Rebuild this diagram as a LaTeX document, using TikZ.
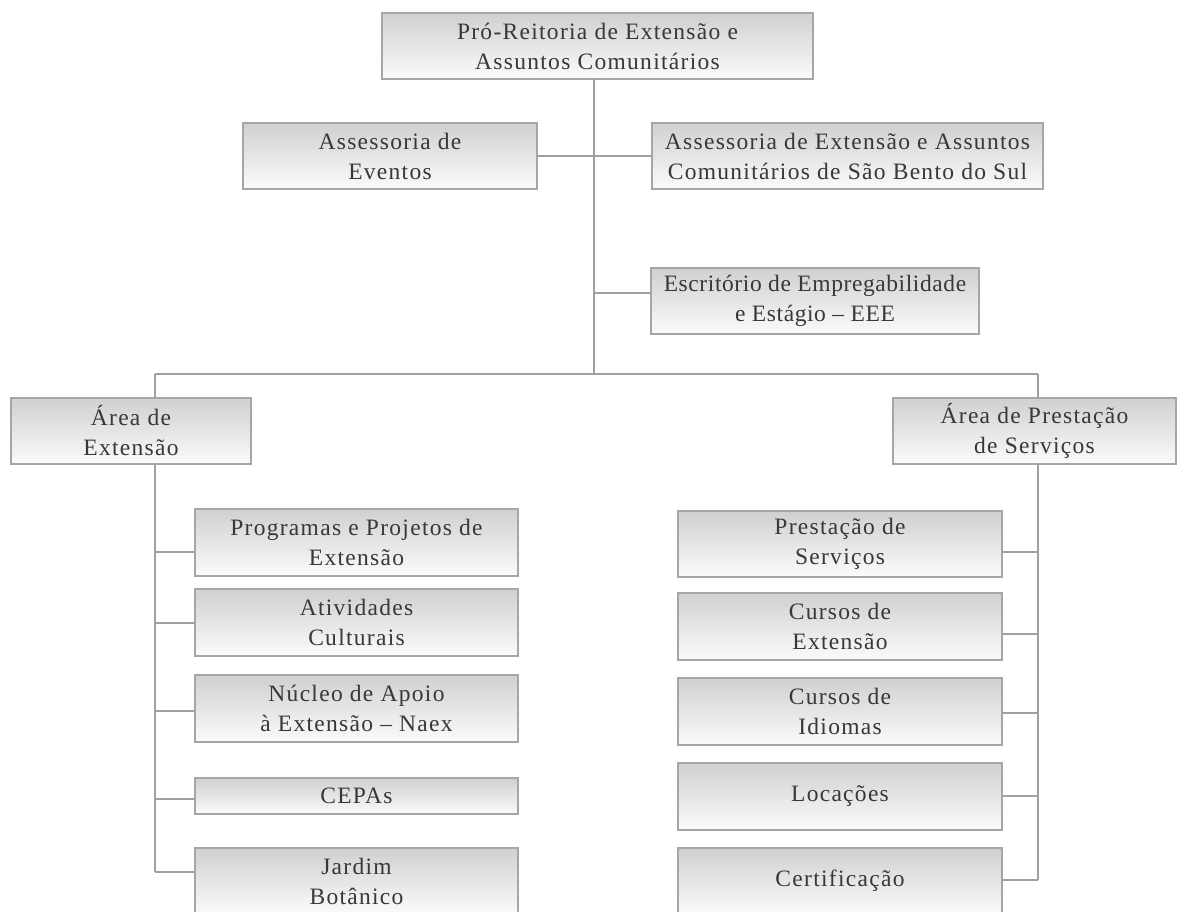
\documentclass[tikz,border=0pt]{standalone}
\usepackage{fontspec}
\setmainfont{Liberation Serif}[LetterSpace=5.5]
\definecolor{gtop}{HTML}{D0D0D2}
\definecolor{gbot}{HTML}{FBFBFB}
\definecolor{edge}{HTML}{A6A6A6}
\definecolor{conn}{HTML}{A0A0A0}
\definecolor{txt}{HTML}{383838}
\tikzset{
  orgbox/.style={draw=edge, line width=1.2pt, top color=gtop, bottom color=gbot,
    text=txt, align=center, inner sep=0pt, outer sep=0pt,
    font=\fontsize{23.5}{30}\selectfont},
  link/.style={draw=conn, line width=1.2pt}
}
\begin{document}
\begin{tikzpicture}[x=1pt,y=-1pt]
\useasboundingbox (0,0) rectangle (1178,912);
% top level
\node[orgbox, minimum width=431pt, minimum height=66pt] (top) at (597.5,46) {Pró-Reitoria de Extensão e\\Assuntos Comunitários};
\node[orgbox, minimum width=294pt, minimum height=66pt] (ev) at (390,156) {Assessoria de\\Eventos};
\node[orgbox, minimum width=391pt, minimum height=66pt] (sbs) at (847.5,156) {Assessoria de Extensão e Assuntos\\Comunitários de São Bento do Sul};
\node[orgbox, minimum width=328pt, minimum height=66pt, font=\fontsize{23.5}{30}\selectfont\addfontfeatures{LetterSpace=2.5}] (eee) at (815,301) {Escritório de Empregabilidade\\e Estágio – EEE};
% areas
\node[orgbox, minimum width=240pt, minimum height=66pt] (ext) at (131,431) {Área de\\Extensão};
\node[orgbox, minimum width=283pt, minimum height=66pt] (prest) at (1034.5,431) {Área de Prestação\\de Serviços};
% left children
\node[orgbox, minimum width=323pt, minimum height=67pt] (prog) at (356.5,542.5) {Programas e Projetos de\\Extensão};
\node[orgbox, minimum width=323pt, minimum height=67pt] (ativ) at (356.5,622.5) {Atividades\\Culturais};
\node[orgbox, minimum width=323pt, minimum height=67pt] (naex) at (356.5,708.5) {Núcleo de Apoio\\à Extensão – Naex};
\node[orgbox, minimum width=323pt, minimum height=36pt] (cepa) at (356.5,796) {CEPAs};
\node[orgbox, minimum width=323pt, minimum height=66pt] (jard) at (356.5,881) {Jardim\\Botânico};
% right children
\node[orgbox, minimum width=324pt, minimum height=66pt] (pserv) at (840,544) {Prestação de\\Serviços};
\node[orgbox, minimum width=324pt, minimum height=67pt] (cext) at (840,626.5) {Cursos de\\Extensão};
\node[orgbox, minimum width=324pt, minimum height=67pt] (cidi) at (840,711.5) {Cursos de\\Idiomas};
\node[orgbox, minimum width=324pt, minimum height=67pt] (loca) at (840,796.5) {Locações};
\node[orgbox, minimum width=324pt, minimum height=66pt] (cert) at (840,881) {Certificação};
% junctions
\coordinate (j1) at (594,374);
\coordinate (lj) at (155,374);
\coordinate (rj) at (1038,374);
\coordinate (lend) at (155,872);
\coordinate (rend) at (1038,880);
% trunk
\draw[link] (top.south -| j1) -- (j1);
\draw[link] (ev.east) -- (sbs.west);
\draw[link] ([yshift=8pt]eee.west) -- ([yshift=8pt]eee.west -| j1);
\draw[link] (lj) -- (rj);
\draw[link] (lj) -- (ext.north -| lj);
\draw[link] (rj) -- (prest.north -| rj);
% left bus
\draw[link] (ext.south -| lend) -- (lend);
\draw[link] ([yshift=-9.5pt]prog.west) -- ([yshift=-9.5pt]prog.west -| lend);
\draw[link] ([yshift=-0.5pt]ativ.west) -- ([yshift=-0.5pt]ativ.west -| lend);
\draw[link] ([yshift=-2.5pt]naex.west) -- ([yshift=-2.5pt]naex.west -| lend);
\draw[link] ([yshift=-3pt]cepa.west) -- ([yshift=-3pt]cepa.west -| lend);
\draw[link] (jard.west |- lend) -- (lend);
% right bus
\draw[link] (prest.south -| rend) -- (rend);
\draw[link] ([yshift=-8pt]pserv.east) -- ([yshift=-8pt]pserv.east -| rend);
\draw[link] ([yshift=-7.5pt]cext.east) -- ([yshift=-7.5pt]cext.east -| rend);
\draw[link] ([yshift=-1.5pt]cidi.east) -- ([yshift=-1.5pt]cidi.east -| rend);
\draw[link] ([yshift=0.5pt]loca.east) -- ([yshift=0.5pt]loca.east -| rend);
\draw[link] (cert.east |- rend) -- (rend);
\end{tikzpicture}
\end{document}
